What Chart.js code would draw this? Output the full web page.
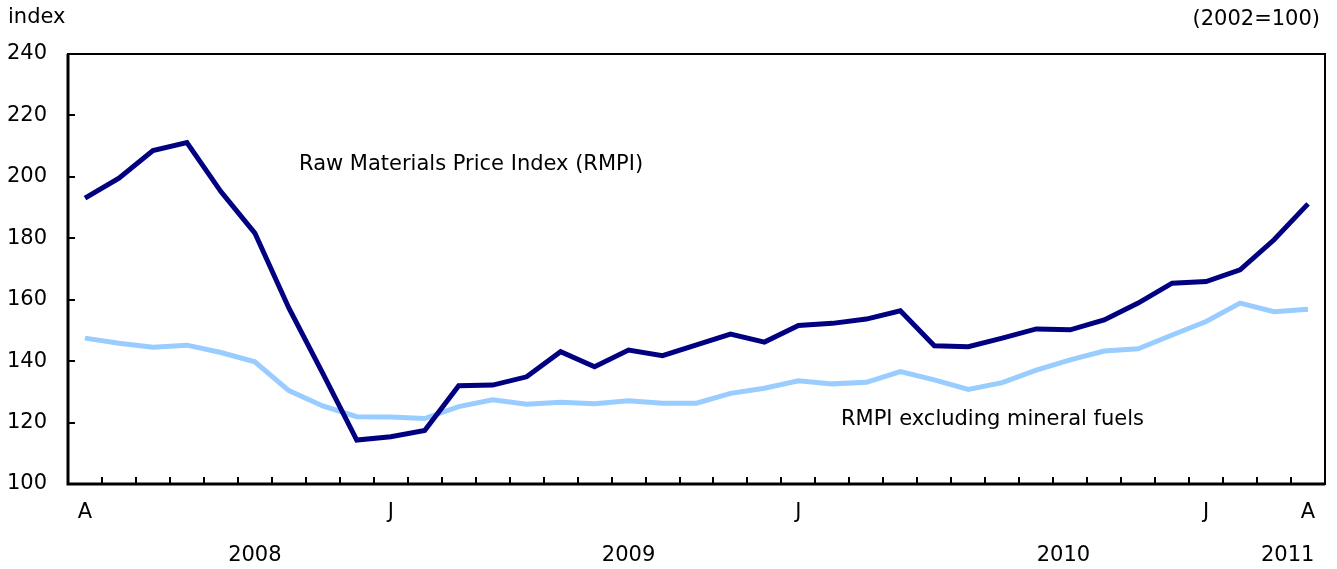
<!DOCTYPE html>
<html>
<head>
<meta charset="utf-8">
<script src="https://cdn.jsdelivr.net/npm/chart.js@4/dist/chart.umd.min.js"></script>
<style>
  html, body { margin: 0; padding: 0; background: #fff; }
  #wrap { width: 1337px; height: 569px; position: relative; }
</style>
</head>
<body>
<div id="wrap"><canvas id="rmpiChart"></canvas></div>
<script>
// Monthly, April 2008 to April 2011
const months = ['A','','','','','','','','','J','','','','','','','','','','','','J','','','','','','','','','','','','J','','','A'];
const rmpi = [193.1, 199.6, 208.6, 211.2, 195.2, 181.7, 157.3, 136.0, 114.3, 115.4, 117.4, 132.0, 132.2,
              134.9, 143.1, 138.2, 143.6, 141.8, 145.3, 148.8, 146.2, 151.6, 152.3, 153.7, 156.4, 145.0,
              144.7, 147.5, 150.5, 150.2, 153.4, 158.9, 165.4, 165.9, 169.7, 179.5, 191.2];
const rmpiExFuels = [147.5, 145.8, 144.5, 145.2, 142.8, 139.8, 130.4, 125.4, 121.9, 121.8, 121.3, 125.2, 127.4,
                     126.0, 126.6, 126.1, 127.1, 126.3, 126.3, 129.5, 131.2, 133.6, 132.6, 133.1, 136.6, 133.9,
                     130.8, 133.0, 137.1, 140.4, 143.3, 144.0, 148.5, 152.9, 158.9, 156.1, 156.9];
const yearLabels = ['2008', '2009', '2010', '2011'];
const yearPos = [5, 16, 28.8, 35.4];

const FONT = '"DejaVu Sans", Verdana, sans-serif';
const FSIZE = 21;

// frame, inside tick marks, year labels and series labels
const decorPlugin = {
    id: 'decor',
    afterDraw(chart) {
        const ctx = chart.ctx;
        const a = chart.chartArea;
        const x = chart.scales.x;
        const y = chart.scales.y;
        ctx.save();
        ctx.strokeStyle = '#000';
        ctx.lineWidth = 2;
        ctx.strokeRect(a.left, a.top, a.right - a.left, a.bottom - a.top);
        ctx.lineWidth = 3;
        ctx.beginPath();
        ctx.moveTo(a.left, a.top); ctx.lineTo(a.left, a.bottom); ctx.lineTo(a.right, a.bottom);
        ctx.stroke();

        ctx.lineWidth = 2;
        const half = (x.getPixelForValue(1) - x.getPixelForValue(0)) / 2;
        for (let i = 1; i < months.length; i++) {
            const px = Math.round(x.getPixelForValue(i) - half);
            ctx.beginPath(); ctx.moveTo(px, a.bottom); ctx.lineTo(px, a.bottom - 7); ctx.stroke();
        }
        y.ticks.forEach(t => {
            const py = Math.round(y.getPixelForValue(t.value));
            ctx.beginPath(); ctx.moveTo(a.left, py); ctx.lineTo(a.left + 7, py); ctx.stroke();
        });

        ctx.fillStyle = '#000';
        ctx.font = FSIZE + 'px ' + FONT;
        ctx.textAlign = 'center';
        ctx.textBaseline = 'middle';
        yearLabels.forEach((yr, i) => ctx.fillText(yr, x.getPixelForValue(yearPos[i]), 556));

        ctx.textAlign = 'left';
        ctx.fillText('index', 8, 18);
        ctx.fillText('Raw Materials Price Index (RMPI)', 299, 165);
        ctx.fillText('RMPI excluding mineral fuels', 841, 420);
        ctx.textAlign = 'right';
        ctx.fillText('(2002=100)', 1320, 20);
        ctx.restore();
    }
};

new Chart(document.getElementById('rmpiChart'), {
    type: 'line',
    data: {
        labels: months,
        datasets: [
            { label: 'RMPI', data: rmpi, borderColor: '#000080', borderWidth: 5, pointRadius: 0, tension: 0, fill: false },
            { label: 'RMPI excluding mineral fuels', data: rmpiExFuels, borderColor: '#99ccff', borderWidth: 5, pointRadius: 0, tension: 0, fill: false }
        ]
    },
    options: {
        responsive: true,
        maintainAspectRatio: false,
        animation: false,
        layout: { padding: { top: 54, right: 12, left: 0, bottom: 0 } },
        plugins: { legend: { display: false }, tooltip: { enabled: false } },
        scales: {
            x: {
                offset: true,
                grid: { display: false },
                border: { display: false },
                ticks: { autoSkip: false, maxRotation: 0, color: '#000', padding: 8, font: { family: FONT, size: FSIZE } },
                afterFit: s => { s.height = 85; }
            },
            y: {
                min: 100, max: 240,
                grid: { display: false },
                border: { display: false },
                ticks: { stepSize: 20, color: '#000', padding: 13, font: { family: FONT, size: FSIZE } },
                afterFit: s => { s.width = 68; }
            }
        }
    },
    plugins: [decorPlugin]
});
</script>
</body>
</html>
